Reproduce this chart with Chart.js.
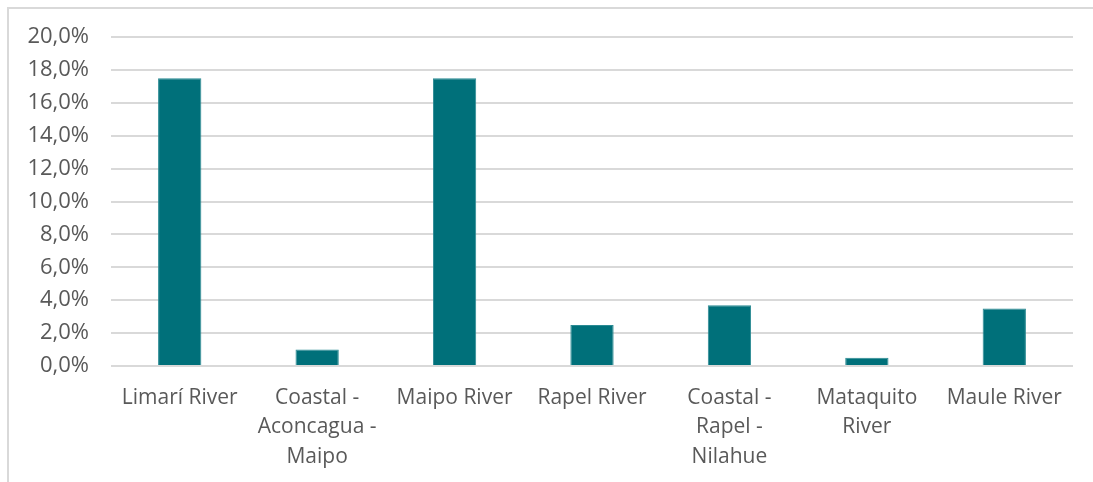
<!DOCTYPE html>
<html>
<head>
<meta charset="utf-8">
<script src="https://cdn.jsdelivr.net/npm/chart.js@4"></script>
<style>
  html, body { margin: 0; padding: 0; background: #fff; }
  #wrap { width: 1093px; height: 482px; position: relative; }
</style>
</head>
<body>
<div id="wrap"><canvas id="c" width="1093" height="482"></canvas></div>
<script>
// River basins (multi-line labels) and their share in percent
const categories = [
  ["Limarí River"],
  ["Coastal -", "Aconcagua -", "Maipo"],
  ["Maipo River"],
  ["Rapel River"],
  ["Coastal -", "Rapel -", "Nilahue"],
  ["Mataquito", "River"],
  ["Maule River"]
];
const shares = [17.5, 1.0, 17.5, 2.5, 3.7, 0.5, 3.5];
const yTicks = [0, 2, 4, 6, 8, 10, 12, 14, 16, 18, 20];

const textColor = '#595959';
const gridColor = '#D9D9D9';
const fontFamily = '"Open Sans", Roboto, sans-serif';

// Frame around the chart area (only top and left edges fall inside the canvas)
const framePlugin = {
  id: 'frame',
  beforeDraw(chart) {
    const ctx = chart.ctx;
    ctx.save();
    ctx.strokeStyle = gridColor;
    ctx.lineWidth = 2;
    ctx.beginPath();
    ctx.moveTo(8, chart.height + 5);
    ctx.lineTo(8, 8);
    ctx.lineTo(chart.width + 5, 8);
    ctx.stroke();
    ctx.restore();
  }
};

new Chart(document.getElementById('c'), {
  type: 'bar',
  data: {
    labels: categories,
    datasets: [{
      data: shares,
      backgroundColor: '#00707A',
      borderColor: '#2A8A93',
      borderWidth: 1,
      barPercentage: 0.63,
      categoryPercentage: 0.5
    }]
  },
  options: {
    responsive: false,
    animation: false,
    devicePixelRatio: 1,
    layout: { padding: { top: 37, right: 20, bottom: 0, left: 0 } },
    plugins: { legend: { display: false }, tooltip: { enabled: false } },
    scales: {
      x: {
        grid: { display: false },
        border: { display: false },
        ticks: {
          color: textColor,
          font: { family: fontFamily, size: 21, lineHeight: 1.41 },
          maxRotation: 0,
          autoSkip: false,
          padding: 9
        },
        afterFit(scale) { scale.height = 116; }
      },
      y: {
        min: 0,
        max: 20,
        afterBuildTicks(scale) { scale.ticks = yTicks.map(v => ({ value: v })); },
        grid: { color: gridColor, lineWidth: 2, drawTicks: false },
        border: { display: false },
        ticks: {
          color: textColor,
          font: { family: fontFamily, size: 22 },
          padding: 22,
          callback: v => v.toFixed(1).replace('.', ',') + '%'
        },
        afterFit(scale) { scale.width = 111; }
      }
    }
  },
  plugins: [framePlugin]
});
</script>
</body>
</html>
